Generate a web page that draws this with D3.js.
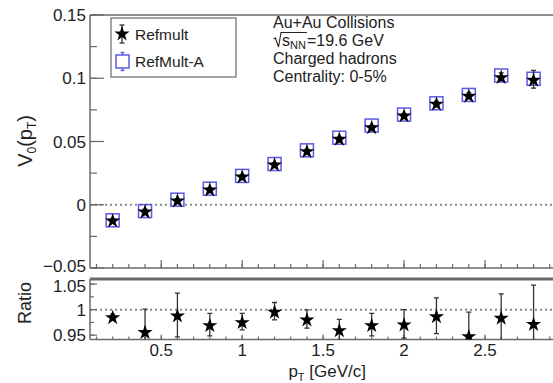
<!DOCTYPE html>
<html>
<head>
<meta charset="utf-8">
<script src="https://cdn.jsdelivr.net/npm/d3@7"></script>
<style>
  body { margin: 0; background: #fff; }
  svg { display: block; font-family: "Liberation Sans", Arial, sans-serif; }
</style>
</head>
<body>
<svg id="chart" width="553" height="383"></svg>
<script>
// values
const pt = [0.2, 0.4, 0.6, 0.8, 1.0, 1.2, 1.4, 1.6, 1.8, 2.0, 2.2, 2.4, 2.6, 2.8];
const refmult = [-0.0121, -0.0050, 0.0038, 0.0125, 0.0227, 0.0322, 0.0428, 0.0525, 0.0617, 0.0710, 0.0803, 0.0866, 0.1013, 0.0992];
const refmultErr = [0.001, 0.0015, 0.001, 0.001, 0.001, 0.001, 0.001, 0.001, 0.001, 0.0012, 0.0015, 0.002, 0.003, 0.007];
const refmultA = [-0.0123, -0.0050, 0.0040, 0.0127, 0.0228, 0.0322, 0.0430, 0.0530, 0.0626, 0.0713, 0.0802, 0.0868, 0.1022, 0.0996];
const ratio = [0.986, 0.957, 0.9895, 0.9706, 0.9765, 0.997, 0.9817, 0.9608, 0.9706, 0.972, 0.988, 0.949, 0.985, 0.973];
const ratioErr = [0.005, 0.044, 0.043, 0.022, 0.016, 0.017, 0.018, 0.02, 0.022, 0.028, 0.035, 0.046, 0.046, 0.075];

const topTicks = [-0.05, 0, 0.05, 0.1, 0.15];
const topTickLabels = ["\u22120.05", "0", "0.05", "0.1", "0.15"];
const ratioTicks = [0.95, 1, 1.05];
const ratioTickLabels = ["0.95", "1", "1.05"];
const xTicks = [0.5, 1, 1.5, 2, 2.5];
const xTickLabels = ["0.5", "1", "1.5", "2", "2.5"];

const infoLines = ["Au+Au Collisions", "", "Charged hadrons", "Centrality: 0-5%"];

const svg = d3.select("#chart");
const frameCol = "#6a6a6a";
const blue = "#5a5ae6";
const txt = "#222";

const left = 90, right = 553;
const x = d3.scaleLinear().domain([0.06, 2.92]).range([left, right]);
const yTop = d3.scaleLinear().domain([-0.05, 0.15]).range([268, 15]);
const yRat = d3.scaleLinear().domain([0.9415, 1.06]).range([339.5, 279]);

const star = d3.symbol().type(d3.symbolStar).size(72);
svg.append("clipPath").attr("id", "ct").append("rect")
    .attr("x", left).attr("y", 15).attr("width", right - left).attr("height", 253);
svg.append("clipPath").attr("id", "cr").append("rect")
    .attr("x", left).attr("y", 279).attr("width", right - left).attr("height", 60.5);

// minor ticks
const xMinor = d3.range(1, 30).map(d => d / 10).filter(d => d > 0.06 && d < 2.92);
const topMinor = d3.range(-2, 7).map(d => d * 0.025);
const ratMinor = [0.95, 0.975, 1, 1.025, 1.05];

function panel(y, refVal, minorY, majorY, labels, majLen, minLen, xMaj, xMin, clip, labShift) {
    const g = svg.append("g");
    const [y0, y1] = y.range();
    // dotted reference line
    g.append("line")
        .attr("x1", left).attr("x2", right)
        .attr("y1", y(refVal)).attr("y2", y(refVal))
        .attr("stroke", "#8a8a8a").attr("stroke-width", 2)
        .attr("stroke-dasharray", "2,3");
    // frame
    g.append("line").attr("x1", left).attr("x2", left).attr("y1", y0).attr("y2", y1)
        .attr("stroke", frameCol).attr("stroke-width", 1.5);
    g.append("line").attr("x1", left).attr("x2", right).attr("y1", y0).attr("y2", y0)
        .attr("stroke", frameCol).attr("stroke-width", 1.5);
    g.append("line").attr("x1", left).attr("x2", right).attr("y1", y1).attr("y2", y1)
        .attr("stroke", frameCol).attr("stroke-width", y === yTop ? 1.5 : 3);
    // y ticks
    g.selectAll(".ymin").data(minorY).join("line")
        .attr("x1", left).attr("x2", left + minLen)
        .attr("y1", d => y(d)).attr("y2", d => y(d))
        .attr("stroke", frameCol).attr("stroke-width", 1.2);
    g.selectAll(".ymaj").data(majorY).join("line")
        .attr("x1", left).attr("x2", left + majLen)
        .attr("y1", d => y(d)).attr("y2", d => y(d))
        .attr("stroke", frameCol).attr("stroke-width", 1.2);
    g.selectAll(".ylab").data(majorY).join("text")
        .attr("x", left - 4).attr("y", (d, i) => y(d) + labShift(i)).attr("dy", "0.36em")
        .attr("text-anchor", "end").attr("font-size", 17).attr("fill", txt)
        .text((d, i) => labels[i]);
    // x ticks
    g.selectAll(".xmin").data(xMinor).join("line")
        .attr("x1", d => x(d)).attr("x2", d => x(d))
        .attr("y1", y0).attr("y2", y0 - xMin)
        .attr("stroke", frameCol).attr("stroke-width", 1.2);
    g.selectAll(".xmaj").data(xTicks).join("line")
        .attr("x1", d => x(d)).attr("x2", d => x(d))
        .attr("y1", y0).attr("y2", y0 - xMaj)
        .attr("stroke", frameCol).attr("stroke-width", 1.2);
    return g.append("g").attr("clip-path", clip);
}

const gTop = panel(yTop, 0, topMinor, topTicks, topTickLabels, 14, 7, 8, 4, "url(#ct)", i => i === 0 ? -2 : 0);
const gRat = panel(yRat, 1, ratMinor, ratioTicks, ratioTickLabels, 7, 4, 5, 3, "url(#cr)", i => i === 2 ? 1.5 : 0);

// error bars
function errBars(g, y, vals, errs, col) {
    pt.forEach((p, i) => {
        const cx = x(p), lo = y(vals[i] - errs[i]), hi = y(vals[i] + errs[i]);
        g.append("line").attr("x1", cx).attr("x2", cx).attr("y1", lo).attr("y2", hi)
            .attr("stroke", col).attr("stroke-width", 1.3);
        [lo, hi].forEach(v => g.append("line").attr("x1", cx - 2.5).attr("x2", cx + 2.5)
            .attr("y1", v).attr("y2", v).attr("stroke", col).attr("stroke-width", 1.3));
    });
}

// top panel points
gTop.selectAll(".sq").data(pt).join("rect")
    .attr("x", d => x(d) - 6.5).attr("y", (d, i) => yTop(refmultA[i]) - 6.5)
    .attr("width", 13).attr("height", 13)
    .attr("fill", "none").attr("stroke", blue).attr("stroke-width", 1.5);
errBars(gTop, yTop, refmult, refmultErr, "#333");
gTop.selectAll(".st").data(pt).join("path")
    .attr("d", star)
    .attr("transform", (d, i) => `translate(${x(d)},${yTop(refmult[i]) + 1})`)
    .attr("fill", "#000");

// ratio panel points
errBars(gRat, yRat, ratio, ratioErr, "#333");
gRat.selectAll(".st").data(pt).join("path")
    .attr("d", star)
    .attr("transform", (d, i) => `translate(${x(d)},${yRat(ratio[i]) + 1})`)
    .attr("fill", "#000");

// x tick labels
svg.selectAll(".xlab").data(xTicks).join("text")
    .attr("x", d => x(d)).attr("y", 356)
    .attr("text-anchor", "middle").attr("font-size", 17).attr("fill", txt)
    .text((d, i) => xTickLabels[i]);

// axis titles
const xt = svg.append("text").attr("x", 366).attr("y", 377)
    .attr("text-anchor", "end").attr("font-size", 17).attr("fill", txt);
xt.append("tspan").text("p");
xt.append("tspan").attr("font-size", 11).attr("dy", 4).text("T");
xt.append("tspan").attr("dy", -4).text(" [GeV/c]");

const yt = svg.append("text").attr("transform", "translate(32,115) rotate(-90)")
    .attr("text-anchor", "end").attr("font-size", 20).attr("fill", txt);
yt.append("tspan").text("V");
yt.append("tspan").attr("font-size", 12).attr("dy", 4).text("0");
yt.append("tspan").attr("dy", -4).text("(p");
yt.append("tspan").attr("font-size", 12).attr("dy", 4).text("T");
yt.append("tspan").attr("dy", -4).text(")");

svg.append("text").attr("transform", "translate(31,282) rotate(-90)")
    .attr("text-anchor", "end").attr("font-size", 18).attr("fill", txt).text("Ratio");

// legend
const lg = svg.append("g");
lg.append("rect").attr("x", 111).attr("y", 18).attr("width", 125).attr("height", 59)
    .attr("fill", "#fff").attr("stroke", frameCol).attr("stroke-width", 1.2);
lg.append("line").attr("x1", 122).attr("x2", 122).attr("y1", 25).attr("y2", 43)
    .attr("stroke", "#333").attr("stroke-width", 1.3);
[25, 43].forEach(v => lg.append("line").attr("x1", 119.5).attr("x2", 124.5).attr("y1", v).attr("y2", v)
    .attr("stroke", "#333").attr("stroke-width", 1.3));
lg.append("path").attr("d", star).attr("transform", "translate(122,34)").attr("fill", "#000");
lg.append("text").attr("x", 135).attr("y", 39.5).attr("font-size", 15.5).attr("fill", txt).text("Refmult");
lg.append("rect").attr("x", 116).attr("y", 55).attr("width", 13).attr("height", 13)
    .attr("fill", "none").attr("stroke", blue).attr("stroke-width", 1.5);
[[52.5, 55], [68, 70.5]].forEach(([a, b]) => {
    lg.append("line").attr("x1", 122.5).attr("x2", 122.5).attr("y1", a).attr("y2", b).attr("stroke", blue).attr("stroke-width", 1.3);
});
[52.5, 70.5].forEach(v => lg.append("line").attr("x1", 120.5).attr("x2", 124.5).attr("y1", v).attr("y2", v)
    .attr("stroke", blue).attr("stroke-width", 1.3));
lg.append("text").attr("x", 135).attr("y", 66.5).attr("font-size", 15.5).attr("fill", txt).text("RefMult-A");

// info text
const info = svg.append("g").attr("font-size", 16).attr("fill", txt);
infoLines.forEach((t, i) => {
    if (t) info.append("text").attr("x", 273).attr("y", 28 + i * 18).text(t);
});
// sqrt(s_NN) line
const sl = info.append("text").attr("x", 282).attr("y", 46);
sl.append("tspan").text("s");
sl.append("tspan").attr("font-size", 11).attr("dy", 3).text("NN");
const eq = info.append("text").attr("y", 46).text("=19.6 GeV");
const rootEnd = 282 + sl.node().getComputedTextLength() + 1;
eq.attr("x", rootEnd);
info.append("path")
    .attr("d", `M273.5,39 L275.5,38 L278.5,47 L281,32.5 L${rootEnd},32.5`)
    .attr("fill", "none").attr("stroke", txt).attr("stroke-width", 1.1);
</script>
</body>
</html>
